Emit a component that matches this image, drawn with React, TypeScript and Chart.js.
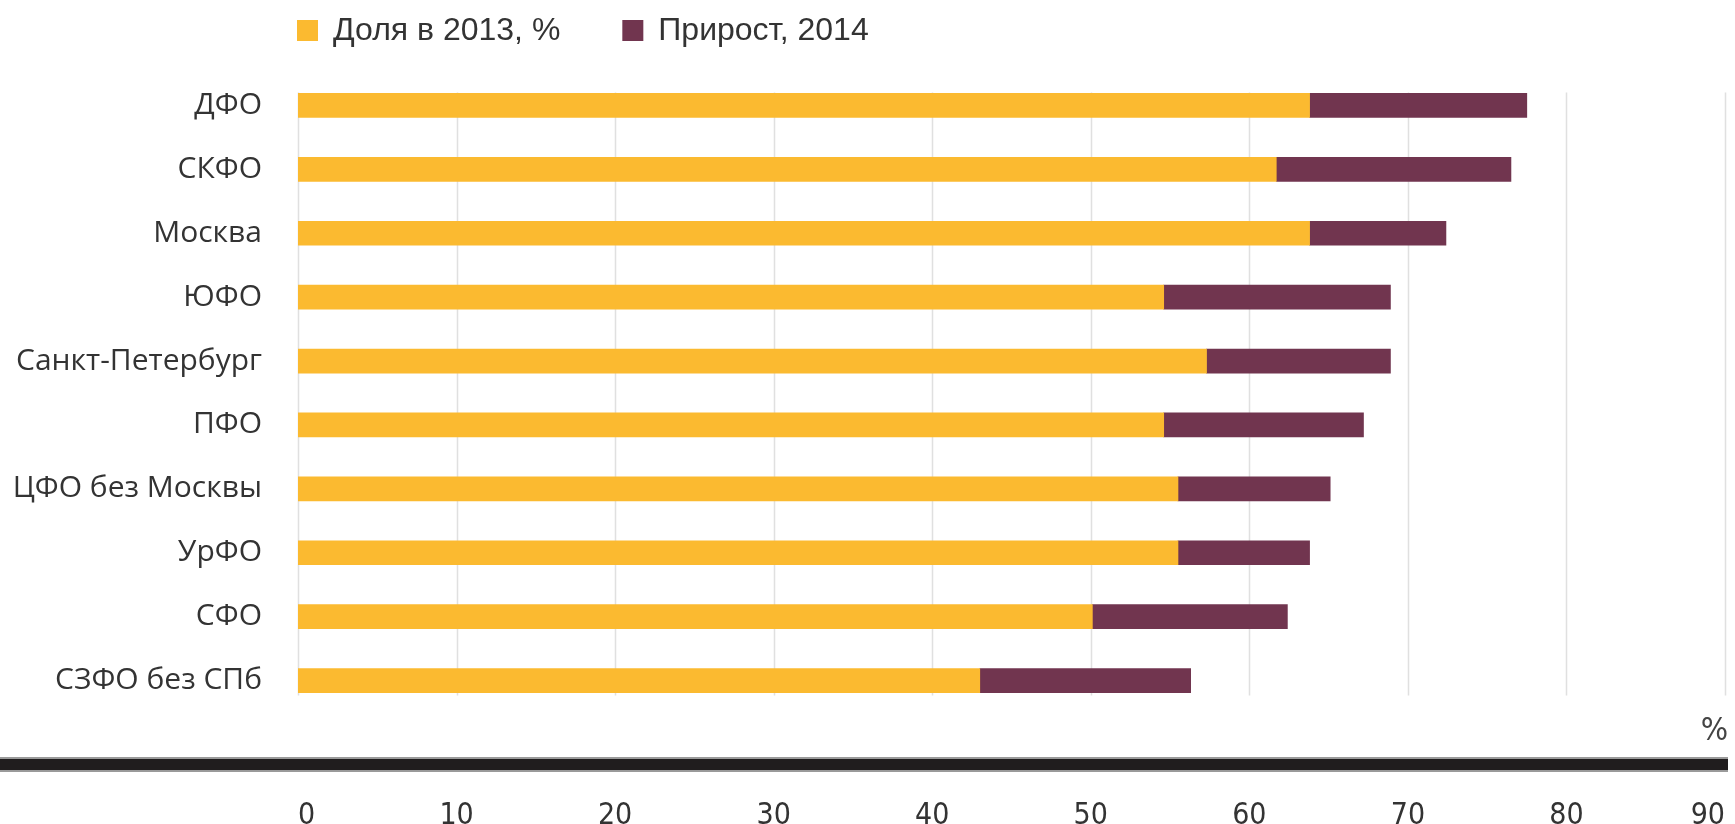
import React, { useEffect, useRef } from "react";
import { Chart, registerables } from "chart.js";

Chart.register(...registerables);

const categories = [
  "ДФО",
  "СКФО",
  "Москва",
  "ЮФО",
  "Санкт-Петербург",
  "ПФО",
  "ЦФО без Москвы",
  "УрФО",
  "СФО",
  "СЗФО без СПб",
];
const share2013 = [63.8, 61.7, 63.8, 54.6, 57.3, 54.6, 55.5, 55.5, 50.1, 43.0];
const growth2014 = [13.7, 14.8, 8.6, 14.3, 11.6, 12.6, 9.6, 8.3, 12.3, 13.3];
const seriesNames = ["Доля в 2013, %", "Прирост, 2014"];
const seriesColors = ["#FBBA30", "#71354F"];
const xTicksMin = 0;
const xTicksMax = 90;
const xTickStep = 10;
const unitLabel = "%";

const BAR = 24;
const LABEL_FONT = "'Open Sans', 'DejaVu Sans', sans-serif";
const LEGEND_FONT = "'Liberation Sans', Arial, sans-serif";
const TICK_FONT = "'Liberation Sans Narrow', 'DejaVu Sans Condensed', sans-serif";

const decor = {
  id: "decor",
  beforeDatasetsDraw(chart: any) {
    const { ctx } = chart;
    const xs = chart.scales.x;
    const ys = chart.scales.y;
    const top = ys.getPixelForValue(0) - BAR / 2 - 1;
    const bottom = ys.getPixelForValue(categories.length - 1) + BAR / 2 + 3;
    ctx.save();
    ctx.strokeStyle = "#e0e0e0";
    ctx.lineWidth = 1.5;
    xs.ticks.forEach((t: any) => {
      const px = Math.round(xs.getPixelForValue(t.value)) + 0.5;
      ctx.beginPath();
      ctx.moveTo(px, top);
      ctx.lineTo(px, bottom);
      ctx.stroke();
    });
    ctx.restore();
  },
  afterDraw(chart: any) {
    const { ctx } = chart;
    const xs = chart.scales.x;
    ctx.save();
    // legend
    let x = 297;
    const cy = 30;
    ctx.font = `32px ${LEGEND_FONT}`;
    ctx.textBaseline = "middle";
    ctx.textAlign = "left";
    chart.data.datasets.forEach((ds: any) => {
      ctx.fillStyle = ds.backgroundColor;
      ctx.fillRect(x, cy - 10, 21, 21);
      ctx.fillStyle = "#333";
      ctx.fillText(ds.label, x + 36, cy + 1);
      x += 36 + ctx.measureText(ds.label).width + 62;
    });
    // thick axis line
    const right = xs.getPixelForValue(xTicksMax) + 3;
    ctx.fillStyle = "#9a9a9a";
    ctx.fillRect(0, 757, right, 15);
    ctx.fillStyle = "#201d1e";
    ctx.fillRect(0, 759, right, 11);
    // unit label
    ctx.fillStyle = "#444";
    ctx.font = `32px ${TICK_FONT}`;
    ctx.textAlign = "right";
    ctx.textBaseline = "middle";
    ctx.fillText(unitLabel, right, 732);
    ctx.restore();
  },
};

export default function App() {
  const ref = useRef<HTMLCanvasElement>(null);
  useEffect(() => {
    document.body.style.margin = "0";
    const chart = new Chart(ref.current!, {
      type: "bar",
      data: {
        labels: categories,
        datasets: [
          {
            label: seriesNames[0],
            data: share2013,
            backgroundColor: seriesColors[0],
            barThickness: BAR,
          },
          {
            label: seriesNames[1],
            data: growth2014,
            backgroundColor: seriesColors[1],
            barThickness: BAR,
          },
        ],
      },
      options: {
        indexAxis: "y",
        animation: false,
        responsive: true,
        maintainAspectRatio: false,
        layout: { padding: { top: 73.5, right: 10, left: 0, bottom: 0 } },
        plugins: {
          legend: { display: false },
          tooltip: { enabled: false },
        },
        scales: {
          x: {
            stacked: true,
            min: xTicksMin,
            max: xTicksMax,
            ticks: {
              stepSize: xTickStep,
              padding: 86,
              align: "inner",
              color: "#333",
              font: { family: TICK_FONT, size: 30 },
            },
            grid: { display: false, drawTicks: false },
            border: { display: false },
            afterFit: (s: any) => {
              s.height = 111.5;
              s.paddingLeft = 0;
              s.paddingRight = 0;
            },
          },
          y: {
            stacked: true,
            ticks: {
              padding: 36,
              color: "#333",
              font: { family: LABEL_FONT, size: 30 },
            },
            grid: { display: false, drawTicks: false },
            border: { display: false },
            afterFit: (s: any) => {
              s.width = 298;
            },
          },
        },
      },
      plugins: [decor],
    });
    return () => chart.destroy();
  }, []);
  return (
    <div style={{ width: 1735, height: 824, position: "relative" }}>
      <canvas ref={ref} />
    </div>
  );
}
